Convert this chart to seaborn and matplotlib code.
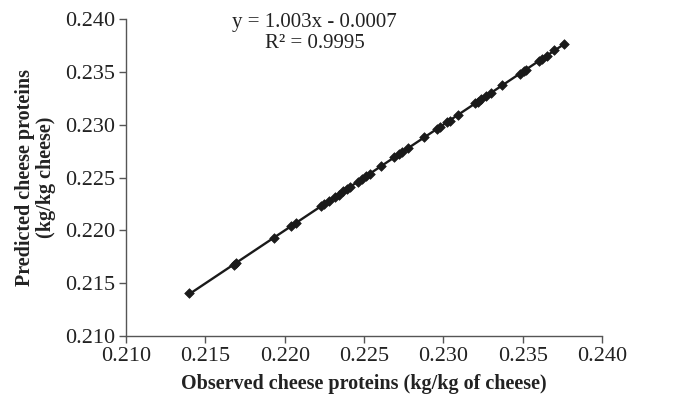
import matplotlib
matplotlib.use("Agg")
import matplotlib.pyplot as plt
import seaborn as sns
import numpy as np
import pandas as pd

observed = [0.2140, 0.2168, 0.2169, 0.2193, 0.2204, 0.2207, 0.2223, 0.2225,
            0.2228, 0.2232, 0.2234, 0.2237, 0.2239, 0.2241, 0.2246, 0.2249,
            0.2251, 0.2254, 0.2261, 0.2269, 0.2272, 0.2274, 0.2278, 0.2288,
            0.2296, 0.2298, 0.2302, 0.2304, 0.2309, 0.2320, 0.2322, 0.2324,
            0.2327, 0.2330, 0.2337, 0.2348, 0.2351, 0.2352, 0.2360, 0.2362,
            0.2365, 0.2370, 0.2376]
predicted = [0.21403, 0.21676, 0.21688, 0.21929, 0.22040, 0.22066, 0.22232, 0.22248,
             0.22277, 0.22318, 0.22337, 0.22368, 0.22392, 0.22411, 0.22460, 0.22488,
             0.22512, 0.22538, 0.22611, 0.22691, 0.22718, 0.22745, 0.22782, 0.22881,
             0.22959, 0.22982, 0.23021, 0.23038, 0.23091, 0.23202, 0.23218, 0.23244,
             0.23271, 0.23298, 0.23372, 0.23482, 0.23510, 0.23522, 0.23601, 0.23620,
             0.23652, 0.23703, 0.23762]
x_ticks = [0.210, 0.215, 0.220, 0.225, 0.230, 0.235, 0.240]
y_ticks = [0.210, 0.215, 0.220, 0.225, 0.230, 0.235, 0.240]
equation = "y = 1.003x - 0.0007"
r2_text = "R² = 0.9995"

sns.set_style("white")
plt.rcParams['font.family'] = ['Liberation Serif', 'DejaVu Serif']

df = pd.DataFrame({"obs": observed, "pred": predicted})

fig = plt.figure(figsize=(6.83, 4.01), dpi=100)
ax = fig.add_axes([0.1845, 0.162, 0.697, 0.7906])
sns.regplot(data=df, x="obs", y="pred", ax=ax, ci=None, marker="D",
            color="#1a1a1a",
            scatter_kws={"s": 24, "edgecolor": "#1a1a1a", "linewidths": 0.5, "alpha": 1},
            line_kws={"lw": 1.7, "color": "#1a1a1a"})

ax.set_xlim(0.210, 0.240)
ax.set_ylim(0.210, 0.240)
ax.set_xticks(x_ticks)
ax.set_yticks(y_ticks)
ax.set_xticklabels([f"{v:.3f}" for v in x_ticks], fontsize=16)
ax.set_yticklabels([f"{v:.3f}" for v in y_ticks], fontsize=16)
ax.tick_params(axis="both", direction="out", length=5, width=1, color="#555555",
               bottom=True, left=True, pad=3, labelcolor="#222222")
for s in ["top", "right"]:
    ax.spines[s].set_visible(False)
for s in ["left", "bottom"]:
    ax.spines[s].set_color("#555555")
    ax.spines[s].set_linewidth(1)

ax.set_xlabel("Observed cheese proteins (kg/kg of cheese)", fontsize=14.5,
              fontweight="bold", labelpad=6, color="#222222")
ax.set_ylabel("Predicted cheese proteins\n(kg/kg cheese)", fontsize=14.5,
              fontweight="bold", labelpad=6, color="#222222", linespacing=1.1)

ax.text(0.2219, 0.23965, equation, fontsize=15, ha="center", va="center", color="#222222")
ax.text(0.2219, 0.23770, r2_text, fontsize=15, ha="center", va="center", color="#222222")

fig.savefig("out.png", dpi=100)
